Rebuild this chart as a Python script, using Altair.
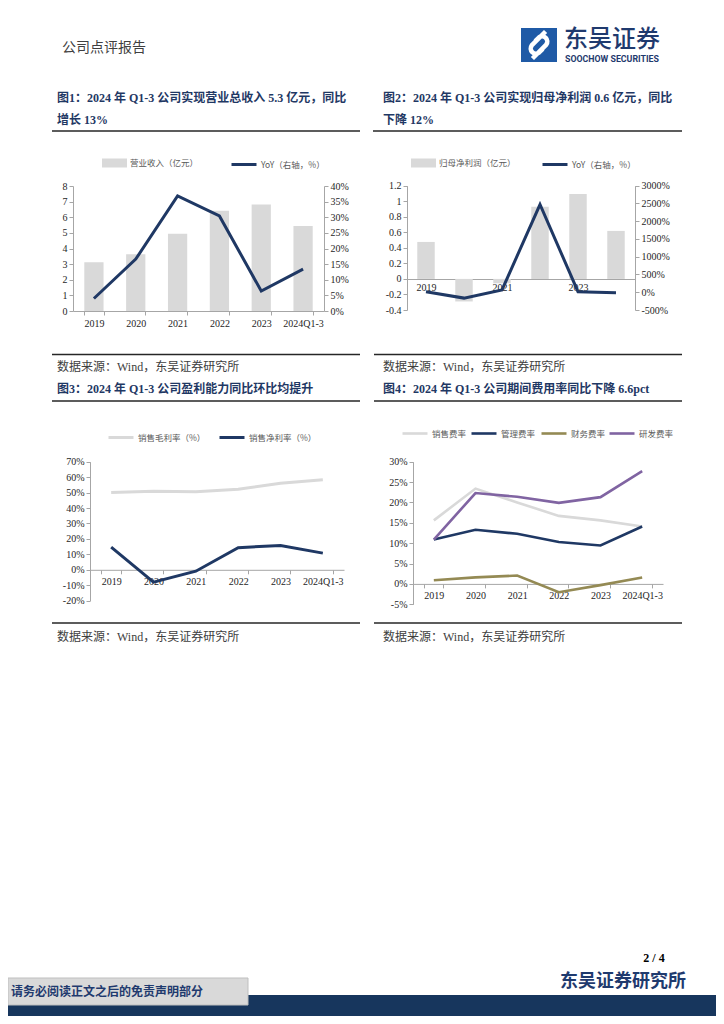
import altair as alt
import pandas as pd

# ---------------- data ----------------
years = ["2019", "2020", "2021", "2022", "2023", "2024Q1-3"]

revenue = [3.12, 3.63, 4.95, 6.41, 6.82, 5.44]            # 亿元
revenue_yoy = [0.040, 0.166, 0.368, 0.304, 0.064, 0.134]

net_profit = [0.476, -0.29, -0.056, 0.93, 1.094, 0.618]   # 亿元
net_profit_yoy = [0.16, -1.65, 0.65, 24.7, 0.16, -0.12]

gross_margin = [0.501, 0.509, 0.505, 0.522, 0.561, 0.583]
net_margin = [0.147, -0.080, -0.009, 0.143, 0.158, 0.108]

selling_rate = [0.156, 0.234, 0.200, 0.167, 0.156, 0.141]
admin_rate = [0.109, 0.133, 0.123, 0.103, 0.0945, 0.141]
finance_rate = [0.009, 0.016, 0.0205, -0.0205, -0.003, 0.016]
rnd_rate = [0.109, 0.223, 0.214, 0.199, 0.213, 0.277]

left_ticks_1 = [0, 1, 2, 3, 4, 5, 6, 7, 8]
right_ticks_1 = [0, 0.05, 0.10, 0.15, 0.20, 0.25, 0.30, 0.35, 0.40]
left_ticks_2 = [-0.4, -0.2, 0, 0.2, 0.4, 0.6, 0.8, 1.0, 1.2]
right_ticks_2 = [-5, 0, 5, 10, 15, 20, 25, 30]
ticks_3 = [-0.2, -0.1, 0, 0.1, 0.2, 0.3, 0.4, 0.5, 0.6, 0.7]
ticks_4 = [-0.05, 0, 0.05, 0.10, 0.15, 0.20, 0.25, 0.30]
shown_years_2 = ["2019", "2021", "2023"]

# ---------------- layout helpers ----------------
W, H = 708, 1008
OX, OY = 8, 8


def px(x):
    return x - OX


def py(y):
    return y - OY


SERIF = "Liberation Serif, Noto Sans CJK SC"
CJK = "Noto Sans CJK SC"
NAVY = "#1f3864"
LGRAY = "#d9d9d9"
OLIVE = "#948a54"
PURPLE = "#8064a2"
AXIS_C = "#a6a6a6"
RECT_SYM = "M-1,-0.36H1V0.36H-1Z"

one = pd.DataFrame({"k": [0]})


def text(s, x, y, size, color, weight="normal", align="left", font=SERIF):
    return alt.Chart(one).mark_text(
        text=s, align=align, baseline="middle", fontSize=size, color=color,
        fontWeight=weight, font=font
    ).encode(x=alt.value(px(x)), y=alt.value(py(y)))


def hline(x1, x2, y, color="#262626", width=1.5):
    return alt.Chart(one).mark_rule(color=color, strokeWidth=width).encode(
        x=alt.value(px(x1)), x2=alt.value(px(x2)), y=alt.value(py(y)))


def box(x1, x2, y1, y2, fill, stroke=None):
    kw = dict(fill=fill)
    if stroke:
        kw.update(stroke=stroke, strokeWidth=1)
    return alt.Chart(one).mark_rect(**kw).encode(
        x=alt.value(px(x1)), x2=alt.value(px(x2)),
        y=alt.value(py(y1)), y2=alt.value(py(y2)))


def xscale(x0, x1):
    return alt.Scale(type="band", domain=years, range=[px(x0), px(x1)],
                     paddingInner=0.54, paddingOuter=0.27)


def yscale(domain, ybot, ytop):
    return alt.Scale(domain=domain, range=[py(ybot), py(ytop)], nice=False)


def legend(x_left, y_center, rect=False, stroke_w=3):
    kw = dict(orient="none", legendX=px(x_left), legendY=py(y_center) - 12.5,
              title=None, symbolSize=625, labelFont=CJK, labelFontSize=8.5,
              labelColor="#595959", labelOffset=3, padding=0)
    if rect:
        kw.update(symbolType=RECT_SYM, symbolStrokeWidth=0)
    else:
        kw.update(symbolType="stroke", symbolStrokeWidth=stroke_w)
    return alt.Legend(**kw)


def x_axis(y_axis_line, labels=True, values=None, ticks=True):
    kw = dict(orient="bottom", offset=py(y_axis_line) - H, title=None,
              labelAngle=0, ticks=ticks, tickBand="extent", labelPadding=3,
              domainColor=AXIS_C, tickColor=AXIS_C)
    if values is not None:
        kw["values"] = values
    return alt.Axis(**kw)


def y_axis(x_line, orient="left", values=None, fmt=None, label_expr=None):
    off = -px(x_line) if orient == "left" else px(x_line) - W
    kw = dict(orient=orient, offset=off, title=None, values=values,
              labelOverlap=False, domainColor=AXIS_C, tickColor=AXIS_C)
    if fmt:
        kw["format"] = fmt
    if label_expr:
        kw["labelExpr"] = label_expr
    return alt.Axis(**kw)


MINUS_FIX = "replace(datum.label, '\u2212', '-')"

# ---------------- chart 1 ----------------
df1 = pd.DataFrame({"year": years, "v": revenue, "yoy": revenue_yoy})
df1["s1"] = "营业收入（亿元）"
df1["s2"] = "YoY（右轴，%）"
X1 = (73, 324)
bars1 = alt.Chart(df1).mark_bar().encode(
    x=alt.X("year:N", scale=xscale(*X1), axis=x_axis(311)),
    y=alt.Y("v:Q", scale=yscale([0, 8], 311, 186),
            axis=y_axis(73, "left", left_ticks_1, "d")),
    color=alt.Color("s1:N", scale=alt.Scale(domain=["营业收入（亿元）"], range=[LGRAY]),
                    legend=legend(102, 163, rect=True)),
)
line1 = alt.Chart(df1).mark_line(strokeWidth=3).encode(
    x=alt.X("year:N", scale=xscale(*X1), axis=None),
    y=alt.Y("yoy:Q", scale=yscale([0, 0.4], 311, 186),
            axis=y_axis(324, "right", right_ticks_1, ".0%")),
    stroke=alt.Stroke("s2:N", scale=alt.Scale(domain=["YoY（右轴，%）"], range=[NAVY]),
                      legend=legend(230, 163)),
)

# ---------------- chart 2 ----------------
df2 = pd.DataFrame({"year": years, "v": net_profit, "yoy": net_profit_yoy})
df2["s1"] = "归母净利润（亿元）"
df2["s2"] = "YoY（右轴，%）"
X2 = (407, 635)
bars2 = alt.Chart(df2).mark_bar().encode(
    x=alt.X("year:N", scale=xscale(*X2),
            axis=x_axis(279, values=shown_years_2, ticks=False)),
    y=alt.Y("v:Q", scale=yscale([-0.4, 1.2], 310, 185.7),
            axis=y_axis(407, "left", left_ticks_2, "~g", MINUS_FIX)),
    color=alt.Color("s1:N", scale=alt.Scale(domain=["归母净利润（亿元）"], range=[LGRAY]),
                    legend=legend(411, 163, rect=True)),
)
line2 = alt.Chart(df2).mark_line(strokeWidth=3).encode(
    x=alt.X("year:N", scale=xscale(*X2), axis=None),
    y=alt.Y("yoy:Q", scale=yscale([-5, 30], 310, 185.7),
            axis=y_axis(635, "right", right_ticks_2, ".0%", MINUS_FIX)),
    stroke=alt.Stroke("s2:N", scale=alt.Scale(domain=["YoY（右轴，%）"], range=[NAVY]),
                      legend=legend(541, 163)),
)

# ---------------- chart 3 ----------------
X3 = (90, 344)
Y3 = ([-0.2, 0.7], 600.7, 461.7)
df3a = pd.DataFrame({"year": years, "v": gross_margin, "s": "销售毛利率（%）"})
df3b = pd.DataFrame({"year": years, "v": net_margin, "s": "销售净利率（%）"})
line3a = alt.Chart(df3a).mark_line(strokeWidth=3).encode(
    x=alt.X("year:N", scale=xscale(*X3), axis=x_axis(569.8)),
    y=alt.Y("v:Q", scale=yscale(*Y3), axis=y_axis(90, "left", ticks_3, ".0%", MINUS_FIX)),
    stroke=alt.Stroke("s:N", scale=alt.Scale(domain=["销售毛利率（%）"], range=[LGRAY]),
                      legend=legend(107, 436)),
)
line3b = alt.Chart(df3b).mark_line(strokeWidth=3).encode(
    x=alt.X("year:N", scale=xscale(*X3), axis=None),
    y=alt.Y("v:Q", scale=yscale(*Y3), axis=None),
    stroke=alt.Stroke("s:N", scale=alt.Scale(domain=["销售净利率（%）"], range=[NAVY]),
                      legend=legend(218, 436)),
)

# ---------------- chart 4 ----------------
X4 = (413, 663)
Y4 = ([-0.05, 0.30], 604.3, 461.7)
series4 = [
    ("销售费率", selling_rate, LGRAY, 401),
    ("管理费率", admin_rate, NAVY, 470),
    ("财务费率", finance_rate, OLIVE, 540),
    ("研发费率", rnd_rate, PURPLE, 608),
]
lines4 = []
for i, (name, vals, col, lx) in enumerate(series4):
    d = pd.DataFrame({"year": years, "v": vals, "s": name})
    first = i == 0
    lines4.append(alt.Chart(d).mark_line(strokeWidth=2.6).encode(
        x=alt.X("year:N", scale=xscale(*X4), axis=x_axis(583.9) if first else None),
        y=alt.Y("v:Q", scale=yscale(*Y4),
                axis=y_axis(413, "left", ticks_4, ".0%", MINUS_FIX) if first else None),
        stroke=alt.Stroke("s:N", scale=alt.Scale(domain=[name], range=[col]),
                          legend=legend(lx, 432, stroke_w=2.6)),
    ))

# ---------------- page decorations ----------------
LOGO_PATH = ("M0.38,-0.78 L-0.42,0.02 A0.3,0.3 0 0 0 0.0,0.44 L0.22,0.22 "
             "M-0.38,0.78 L0.42,-0.02 A0.3,0.3 0 0 0 0.0,-0.44 L-0.22,-0.22")
deco = [
    text("公司点评报告", 62, 48, 14, "#404040"),
    box(521, 557, 28, 62, "#1f5aa6"),
    alt.Chart(one).mark_point(shape=LOGO_PATH, size=1200, filled=False, stroke="white",
                              strokeWidth=4.5, opacity=1).encode(
        x=alt.value(px(539)), y=alt.value(py(45))),
    text("东吴证券", 564, 40, 24, "#1f3a6e", weight=500, font=CJK),
    text("SOOCHOW SECURITIES", 565, 58.5, 8.8, "#1f3a6e", weight="bold", font="Roboto"),

    text("图1：2024 年 Q1-3 公司实现营业总收入 5.3 亿元，同比", 57, 98, 12, NAVY, "bold"),
    text("增长 13%", 57, 120, 12, NAVY, "bold"),
    text("图2：2024 年 Q1-3 公司实现归母净利润 0.6 亿元，同比", 383, 98, 12, NAVY, "bold"),
    text("下降 12%", 383, 120, 12, NAVY, "bold"),
    hline(52, 360, 131), hline(373, 682, 131),
    hline(52, 360, 354.5), hline(374, 682, 354.5),
    text("数据来源：Wind，东吴证券研究所", 57, 367, 12, "#404040"),
    text("数据来源：Wind，东吴证券研究所", 383, 367, 12, "#404040"),

    text("图3：2024 年 Q1-3 公司盈利能力同比环比均提升", 57, 389, 12, NAVY, "bold"),
    text("图4：2024 年 Q1-3 公司期间费用率同比下降 6.6pct", 383, 389, 12, NAVY, "bold"),
    hline(52, 360, 401), hline(374, 682, 401),
    hline(52, 360, 623), hline(374, 682, 623),
    text("数据来源：Wind，东吴证券研究所", 57, 637, 12, "#404040"),
    text("数据来源：Wind，东吴证券研究所", 383, 637, 12, "#404040"),

    text("2 / 4", 654, 958, 12, "#000000", "bold", align="center"),
    text("东吴证券研究所", 560, 982, 18, "#1f3a6e", "bold"),
    box(8, 716, 995, 1016, "#17365d"),
    box(8, 248, 978, 1005, "#d9d9d9", stroke="#bfbfbf"),
    text("请务必阅读正文之后的免责声明部分", 11, 992, 12, "#1f3a6e", "bold"),
]

layers = deco + [bars1, line1, bars2, line2, line3a, line3b] + lines4

chart = alt.layer(*layers).resolve_scale(
    x="independent", y="independent", color="independent", stroke="independent"
).resolve_legend(color="independent", stroke="independent").properties(
    width=W, height=H, autosize=alt.AutoSizeParams(type="none"), padding=0,
    background="white"
).configure_view(stroke=None).configure_axis(
    grid=False, labelFont="Liberation Serif", labelFontSize=10, labelColor="#262626",
    tickSize=4, labelPadding=2
)

chart.save("out.html", embed_options={"renderer": "svg", "actions": False})
